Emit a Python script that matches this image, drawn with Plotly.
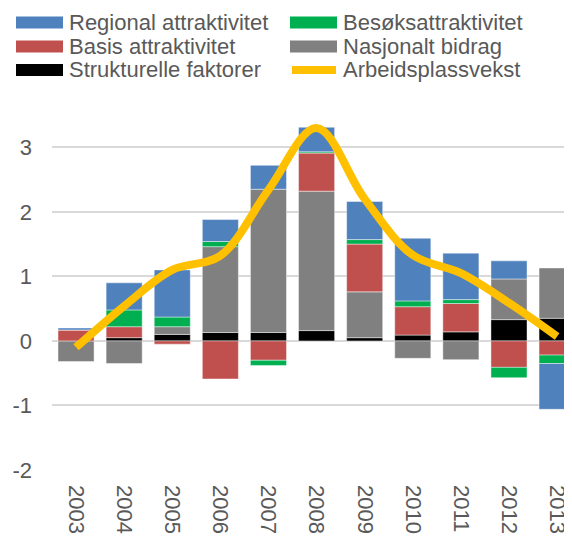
import plotly.graph_objects as go

# Data
years = ["2003", "2004", "2005", "2006", "2007", "2008", "2009", "2010", "2011", "2012", "2013"]

strukturelle = [0.0, 0.05, 0.10, 0.13, 0.13, 0.16, 0.05, 0.09, 0.14, 0.33, 0.35]
nasjonalt = [-0.32, -0.35, 0.12, 1.33, 2.22, 2.16, 0.71, -0.27, -0.29, 0.63, 0.78]
basis = [0.17, 0.17, -0.05, -0.59, -0.30, 0.59, 0.74, 0.44, 0.44, -0.41, -0.22]
besok = [0.0, 0.26, 0.15, 0.08, -0.08, 0.02, 0.07, 0.09, 0.06, -0.16, -0.13]
regional = [0.03, 0.42, 0.73, 0.34, 0.37, 0.38, 0.59, 0.97, 0.72, 0.28, -0.71]
vekst = [-0.10, 0.54, 1.10, 1.32, 2.34, 3.30, 2.20, 1.33, 1.05, 0.59, 0.07]

y_ticks = [-2, -1, 0, 1, 2, 3]
y_labels = ["-2", "-1", "0", "1", "2", "3"]

names = ["Regional attraktivitet", "Besøksattraktivitet", "Basis attraktivitet",
         "Nasjonalt bidrag", "Strukturelle faktorer", "Arbeidsplassvekst"]
colors = ["#4F81BD", "#00B050", "#C0504D", "#808080", "#000000", "#FFC000"]

# the page body has an 8px margin, so the figure is shrunk and shifted
OFF = 8
W, H = 572 - OFF, 536 - OFF
ML, MR, MT, MB = 52 - OFF, 0, 115 - OFF, 66
FONT = "Liberation Sans, Arial, sans-serif"
TXT = "#595959"

fig = go.Figure()

# stacking order bottom-up: strukturelle, nasjonalt, basis, besok, regional
stack = [(strukturelle, 4), (nasjonalt, 3), (basis, 2), (besok, 1), (regional, 0)]
for vals, i in stack:
    fig.add_trace(go.Bar(
        x=years, y=vals, name=names[i],
        marker=dict(color=colors[i], line=dict(color="rgba(255,255,255,0.55)", width=0.8)),
        showlegend=False,
    ))

fig.add_trace(go.Scatter(
    x=years, y=vekst, name=names[5], mode="lines",
    line=dict(color=colors[5], width=8, shape="spline", smoothing=1),
    showlegend=False,
))

# legend drawn by hand (wide swatches, two columns); positions in page pixels
pw, ph = W - ML - MR, H - MT - MB
def px(x):
    return (x - OFF - ML) / pw
def py(y):
    return (H - MB - (y - OFF)) / ph

cols = [16, 290]
rows = [22.5, 46.5, 70]
shapes = []
annots = []
for k, name in enumerate(names):
    c, r = k % 2, k // 2
    x0 = cols[c]
    yc = rows[r]
    if k == 5:
        shapes.append(dict(type="line", xref="paper", yref="paper",
                           x0=px(x0 + 2), x1=px(x0 + 46), y0=py(yc), y1=py(yc),
                           line=dict(color=colors[k], width=8)))
    else:
        shapes.append(dict(type="rect", xref="paper", yref="paper",
                           x0=px(x0), x1=px(x0 + 47), y0=py(yc - 6), y1=py(yc + 6),
                           fillcolor=colors[k], line=dict(width=0)))
    annots.append(dict(text=name, xref="paper", yref="paper",
                       x=px(x0 + 51), y=py(yc), xanchor="left", yanchor="middle",
                       showarrow=False, font=dict(family=FONT, size=22, color=TXT)))

fig.update_layout(
    width=W, height=H,
    margin=dict(l=ML, r=MR, t=MT, b=MB),
    barmode="relative",
    bargap=0.25,
    plot_bgcolor="white",
    paper_bgcolor="white",
    font=dict(family=FONT, size=22, color=TXT),
    shapes=shapes,
    annotations=annots,
    xaxis=dict(type="category", range=[-0.5, 10.31], tickangle=90,
               showgrid=False, showline=False, ticks="", automargin=False,
               ticklabelstandoff=14, tickfont=dict(size=22, color=TXT)),
    yaxis=dict(range=[-2, 3.5], tickvals=y_ticks, ticktext=y_labels,
               showgrid=True, gridcolor="#D9D9D9", gridwidth=1.5,
               zeroline=True, zerolinecolor="#D9D9D9", zerolinewidth=1.5,
               showline=False, ticks="", automargin=False,
               ticklabelstandoff=19, tickfont=dict(size=22, color=TXT)),
)

fig.write_html("out.html")
